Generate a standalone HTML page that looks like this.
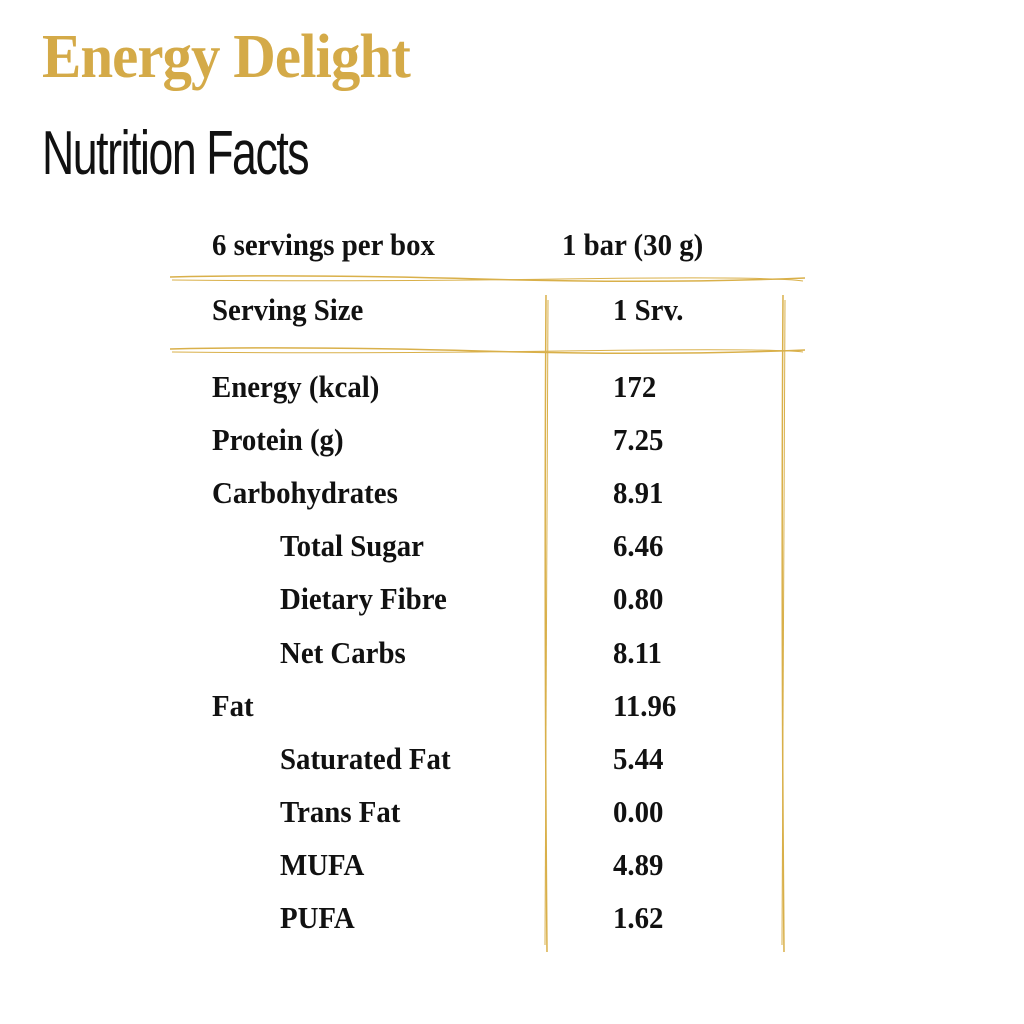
<!DOCTYPE html>
<html><head><meta charset="utf-8"><style>
body{margin:0;width:1024px;height:1024px;background:#fff;position:relative;overflow:hidden;font-family:"Liberation Serif",serif}
.t{position:absolute;white-space:nowrap;font-weight:bold;font-size:31px;color:#111;transform-origin:0 0;transform:scaleX(0.93);line-height:1}
</style></head><body>
<div style="position:absolute;left:42px;top:22px;font-family:'Liberation Serif',serif;font-weight:bold;font-size:62px;color:#d4aa48;letter-spacing:-1px;transform-origin:0 0;transform:scaleX(0.95);white-space:nowrap">Energy Delight</div>
<div style="position:absolute;left:42px;top:118px;font-family:'Liberation Sans',sans-serif;font-size:62px;color:#111;transform-origin:0 0;transform:scaleX(0.72);white-space:nowrap;-webkit-text-stroke:0;font-weight:normal;letter-spacing:-2px">Nutrition Facts</div>
<svg width="1024" height="1024" style="position:absolute;left:0;top:0">
<g stroke="#d9b04a" fill="none" stroke-width="1.5">
<path d="M170 277 Q300 274 480 279 T805 278"/>
<path d="M172 280 Q350 282 560 279 T803 281" stroke-width="1"/>
<path d="M170 349 Q300 346 480 351 T805 350"/>
<path d="M172 352 Q350 354 560 351 T803 352" stroke-width="1"/>
<path d="M546 295 Q544 600 547 952"/>
<path d="M548 300 Q547 620 545 945" stroke-width="1"/>
<path d="M783 295 Q781 600 784 952"/>
<path d="M785 300 Q784 620 782 945" stroke-width="1"/>
</g></svg>
<div id="rows"></div>
<script>
const labels=["Energy (kcal)","Protein (g)","Carbohydrates","Total Sugar","Dietary Fibre","Net Carbs","Fat","Saturated Fat","Trans Fat","MUFA","PUFA"];
const values=["172","7.25","8.91","6.46","0.80","8.11","11.96","5.44","0.00","4.89","1.62"];
const indent=[0,0,0,1,1,1,0,1,1,1,1];
const root=document.body;
function add(txt,x,y,name){const d=document.createElement('div');d.className='t';d.textContent=txt;d.style.left=x+'px';d.style.top=y+'px';


root.appendChild(d);}
add("6 servings per box",212,229,"servings-per-box");
add("1 bar (30 g)",562,229,"bar-weight");
add("Serving Size",212,294,"serving-size-label");
add("1 Srv.",613,294,"serving-size-value");
labels.forEach((l,i)=>{const y=371+i*53.1;
add(l,indent[i]?280:212,y,"nutrient-label");
add(values[i],613,y,"nutrient-value");});
</script>
</body></html>
